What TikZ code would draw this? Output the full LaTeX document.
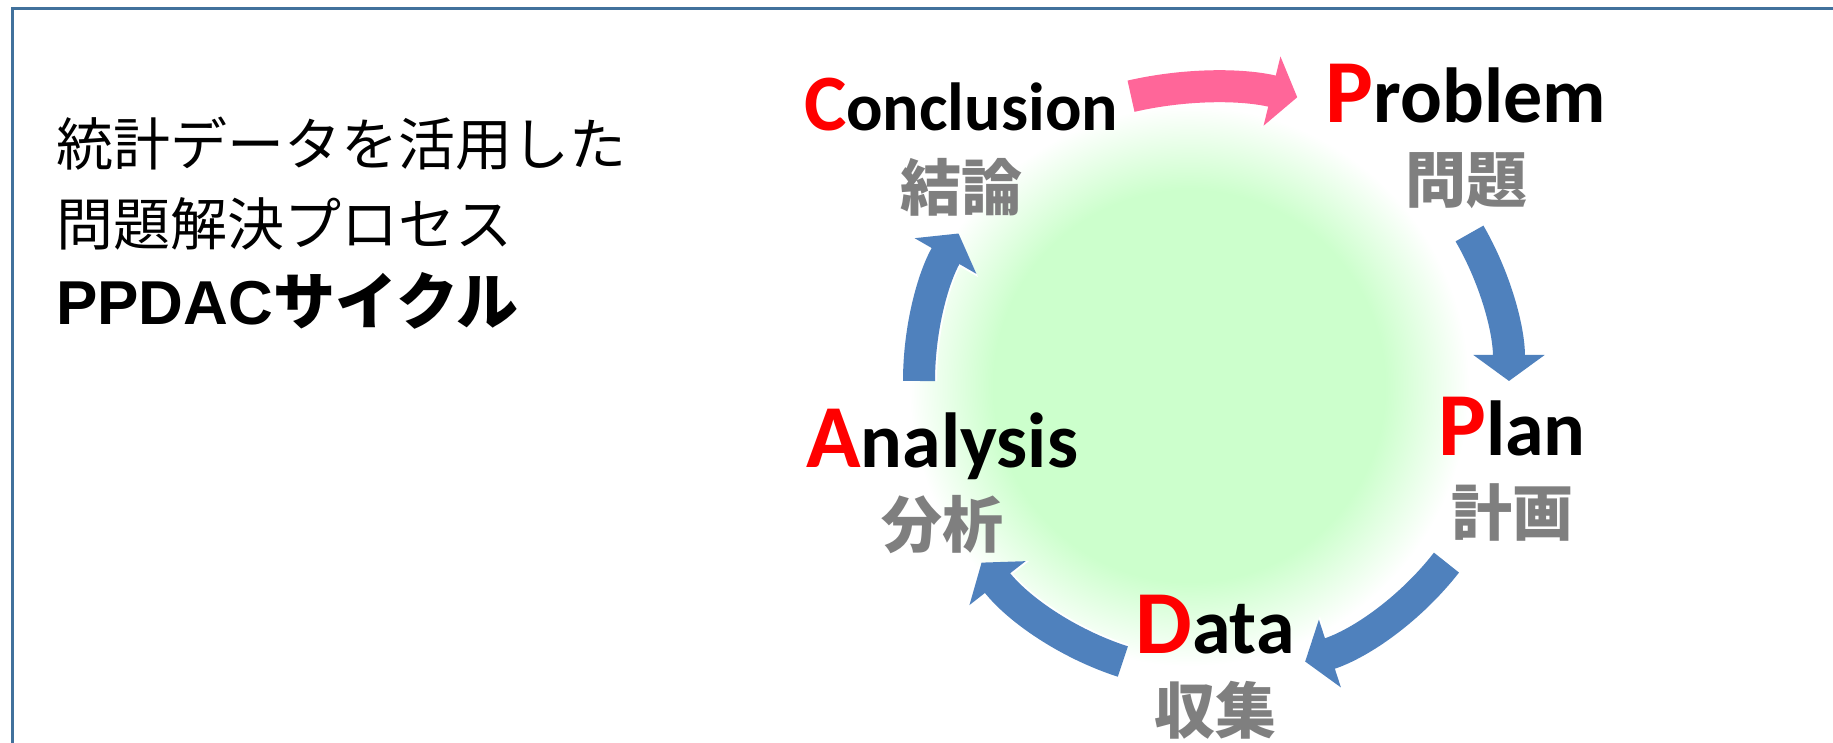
\documentclass[tikz,border=0pt]{standalone}
\usepackage{fontspec}
\setmainfont{Carlito}
\newfontfamily\jpfont{Noto Sans CJK JP}
\newfontfamily\headfont{Liberation Sans}
\usetikzlibrary{arrows.meta}
\usetikzlibrary{positioning}

\definecolor{framecol}{RGB}{65,113,156}
\definecolor{cycleblue}{RGB}{79,129,189}
\definecolor{cyclepink}{RGB}{255,102,153}
\definecolor{blobgreen}{RGB}{204,255,204}
\definecolor{labelgray}{RGB}{127,127,127}

\pgfdeclareradialshading{greenblob}{\pgfpoint{0bp}{0bp}}{%
  color(0bp)=(blobgreen); color(17.5bp)=(blobgreen);
  color(25bp)=(white); color(50bp)=(white)}

\newcommand{\redcap}[2][90]{{\color{red}\fontsize{#1}{#1}\selectfont #2}}

\begin{document}
\begin{tikzpicture}[
    x=1pt, y=1pt,
    every node/.style={inner sep=0pt},
    eng/.style={anchor=base, font=\bfseries\fontsize{78}{80}\selectfont},
    jpn/.style={anchor=base, text=labelgray, font=\jpfont\bfseries\fontsize{61}{61}\selectfont},
    heading/.style={anchor=base west, font=\jpfont\fontsize{57}{60}\selectfont},
    ringarrow/.style={line width=32pt, color=cycleblue,
      -{Triangle[length=26pt, width=70pt]},
      preaction={draw=white, line width=36pt, -{Triangle[length=28pt, width=76pt]}}},
  ]
  \useasboundingbox (0,0) rectangle (1833,743);

  % Frame
  \draw[framecol, line width=2.5pt] (12.5,-40) rectangle (1880,734.5);

  % Title
  \node[heading] (title1) at (56,577) {統計データを活用した};
  \node[heading] (title2) at (56,497) {問題解決プロセス};
  \node[heading, font=\bfseries\fontsize{62}{64}\selectfont]
       (title3) at (56,418) {{\headfont PPDAC}{\jpfont サイクル}};

  % Green background
  \shade[shading=greenblob] (1189,357) circle (280);

  % Cycle arrows
  \coordinate (ring) at (1214,362);
  \coordinate (topring) at (1212,296);
  \foreach \from/\to in {180/150, 30/0, -38/-72, -108/-142}
    \draw[ringarrow] ([shift={(ring)}]\from:295)
      arc[start angle=\from, end angle=\to, radius=295];
  \draw[ringarrow, color=cyclepink] ([shift={(topring)}]103:360)
    arc[start angle=103, end angle=76.3, radius=360];

  % Cycle labels
  \node[eng] (problem) at (1466,620) {\redcap{P}roblem};
  \node[jpn] (problemjp) at ([yshift=-80pt]problem.base) {問題};
  \node[eng] (plan) at (1512,287) {\redcap{P}lan};
  \node[jpn] (planjp) at ([yshift=-80pt]plan.base) {計画};
  \node[eng] (data) at (1215,89) {\redcap{D}ata};
  \node[jpn] (datajp) at ([yshift=-80pt]data.base) {収集};
  \node[eng] (analysis) at (942,275) {\redcap{A}nalysis};
  \node[jpn] (analysisjp) at ([yshift=-80pt]analysis.base) {分析};
  \node[eng, font=\bfseries\fontsize{68}{70}\selectfont]
       (conclusion) at (961,612) {\redcap[80]{C}onclusion};
  \node[jpn] (conclusionjp) at ([yshift=-80pt]conclusion.base) {結論};
\end{tikzpicture}
\end{document}
